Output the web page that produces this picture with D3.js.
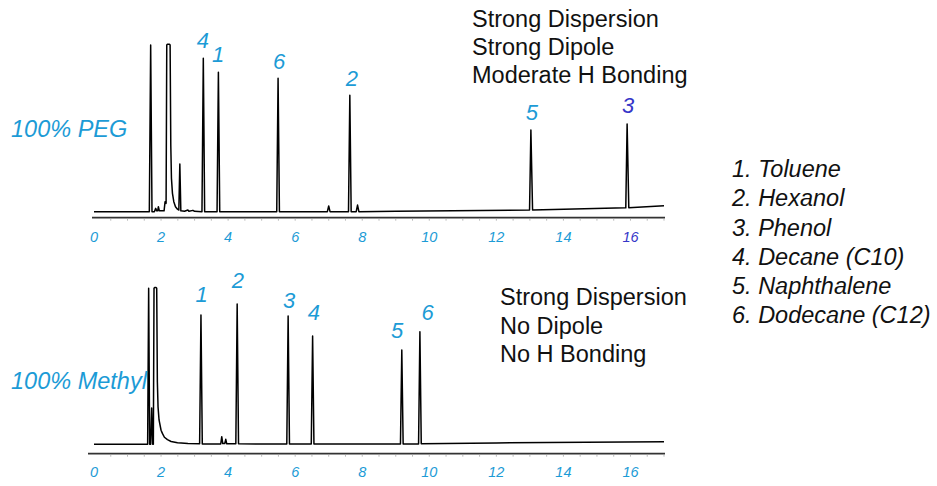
<!DOCTYPE html>
<html><head><meta charset="utf-8">
<script src="https://cdn.jsdelivr.net/npm/d3@7"></script>
<style>
html,body{margin:0;padding:0;background:#fff;}
svg text{font-family:"Liberation Sans",Arial,sans-serif;}
</style></head>
<body>
<svg id="c" width="937" height="486"></svg>
<script>
// ---- data ----
const timeDomain = [0, 17];
const tickValues = [0, 2, 4, 6, 8, 10, 12, 14, 16];

// PEG trace vertices [time (min), signal (% of full scale)]
const pegTrace = [[0,0],[1.65,0],[1.69,100],[1.73,0],[1.80,0],[1.84,2],[1.87,0.5],[1.90,0.5],[1.92,3],[1.95,0.5],
 [2.09,0.5],[2.12,6],[2.15,5],[2.17,100],[2.19,100.5],[2.25,100.5],[2.27,100],[2.29,40],[2.31,20],[2.34,11],[2.38,6],[2.43,3],[2.49,1.5],[2.53,1],
 [2.56,28.6],[2.59,0.5],[2.7,0.3],[2.8,1],[2.83,0.3],[2.95,0.8],[3.0,0.2],[3.22,0],[3.26,92],[3.30,0],[3.67,0],[3.71,83.6],[3.75,0],
 [5.45,0],[5.49,80],[5.53,0],[6.96,0],[7.0,3.4],[7.04,0],[7.59,0],[7.63,69.8],[7.67,0],[7.82,0],[7.86,4],[7.90,0],
 [9,0.3],[12.99,1.0],[13.03,49],[13.08,1.0],[15.86,2.3],[15.9,52.6],[15.95,2.4],[17,3.6]];

// Methyl trace vertices
const methylTrace = [[0,0],[1.60,0],[1.63,100],[1.66,0],[1.69,0],[1.72,23.3],[1.75,0],[1.77,0],[1.79,100],[1.81,100.5],[1.85,100.5],[1.87,100],
 [1.89,40],[1.91,24],[1.94,15.6],[2.0,9],[2.04,7],[2.1,4.5],[2.19,3],[2.3,1.8],[2.49,1],[2.6,0.8],[2.8,0.5],
 [3.15,0.3],[3.19,82.9],[3.23,0.2],[3.78,0.2],[3.81,4.9],[3.84,0.5],[3.90,0.5],[3.93,3.2],[3.96,0.3],
 [4.23,0.3],[4.27,90],[4.31,0.3],[5.75,0.2],[5.79,82.2],[5.83,0.2],[6.48,0.2],[6.52,69.4],[6.56,0.2],
 [9.14,0.2],[9.18,60.4],[9.22,0.2],[9.68,0.2],[9.72,72.2],[9.76,0.4],[12,0.9],[17,1.7]];

// peak labels [text, time, signal]
const pegLabels = [["4",3.25,98.2],["1",3.70,89.8],["6",5.52,85.6],["2",7.69,75.4],["5",13.06,55],["3",15.93,59.2]];
const methylLabels = [["1",3.21,91.4],["2",4.29,100.2],["3",5.82,87.4],["4",6.56,79.7],["5",9.04,68.1],["6",9.95,79.7]];

const pegTitle = "100% PEG";
const methylTitle = "100% Methyl";
const pegNotes = ["Strong Dispersion","Strong Dipole","Moderate H Bonding"];
const methylNotes = ["Strong Dispersion","No Dipole","No H Bonding"];
const legendItems = ["1. Toluene","2. Hexanol","3. Phenol","4. Decane (C10)","5. Naphthalene","6. Dodecane (C12)"];

// ---- drawing ----
const svg = d3.select("#c");
const BLUE = "#1c9bd6", INDIGO = "#3636c8";
const x = d3.scaleLinear().domain(timeDomain).range([94, 664]);

function panel(cfg){
  const y = d3.scaleLinear().domain([0,100]).range([cfg.base, cfg.top]);
  const g = svg.append("g");
  g.append("line").attr("x1", cfg.axisStart).attr("x2", 665)
    .attr("y1", cfg.axisY).attr("y2", cfg.axisY)
    .attr("stroke", "#333").attr("stroke-width", 1.8);
  const minor = d3.range(0.5, 17.01, 0.5);
  g.selectAll(".mt").data(minor).join("line")
    .attr("x1", d => x(d)).attr("x2", d => x(d))
    .attr("y1", cfg.axisY + 1).attr("y2", cfg.axisY + 3)
    .attr("stroke", "#aaa").attr("stroke-width", 0.8);
  g.selectAll(".tl").data(tickValues).join("text")
    .attr("x", d => x(d)).attr("y", cfg.axisY + cfg.labelOff)
    .attr("text-anchor", "middle").attr("font-style", "italic").attr("font-size", 14.5)
    .attr("fill", d => (cfg.indigoTick === d ? INDIGO : BLUE))
    .text(d => d);
  const line = d3.line().x(d => x(d[0])).y(d => y(d[1]));
  g.append("path").datum(cfg.trace).attr("d", line)
    .attr("fill", "none").attr("stroke", "#000").attr("stroke-width", 1.5)
    .attr("stroke-linejoin", "round");
  g.selectAll(".pl").data(cfg.labels).join("text")
    .attr("x", d => x(d[1])).attr("y", d => y(d[2]))
    .attr("text-anchor", "middle").attr("font-style", "italic").attr("font-size", 22)
    .attr("fill", d => (cfg.indigoLabel === d[0] ? INDIGO : BLUE))
    .text(d => d[0]);
  g.append("text").attr("x", 11).attr("y", cfg.titleY)
    .attr("font-style", "italic").attr("font-size", 23.5).attr("fill", BLUE).text(cfg.title);
  g.selectAll(".nt").data(cfg.notes).join("text")
    .attr("x", cfg.notesX).attr("y", (d,i) => cfg.notesY + i * cfg.notesStep)
    .attr("font-size", 23.5).attr("fill", "#111").text(d => d);
}

panel({base:211.7, top:45, axisY:217.7, axisStart:92, labelOff:24, trace:pegTrace, labels:pegLabels,
  indigoLabel:"3", indigoTick:16, title:pegTitle, titleY:136.5, notes:pegNotes, notesX:472, notesY:27, notesStep:28});
panel({base:444.3, top:288.3, axisY:453.7, axisStart:88, labelOff:23, trace:methylTrace, labels:methylLabels,
  indigoLabel:null, indigoTick:null, title:methylTitle, titleY:388.5, notes:methylNotes, notesX:500, notesY:305, notesStep:28.7});

svg.selectAll(".lg").data(legendItems).join("text")
  .attr("x", 732).attr("y", (d,i) => 177.3 + i * 29.1)
  .attr("font-style", "italic").attr("font-size", 23.5).attr("fill", "#111").text(d => d);
</script>
</body></html>
